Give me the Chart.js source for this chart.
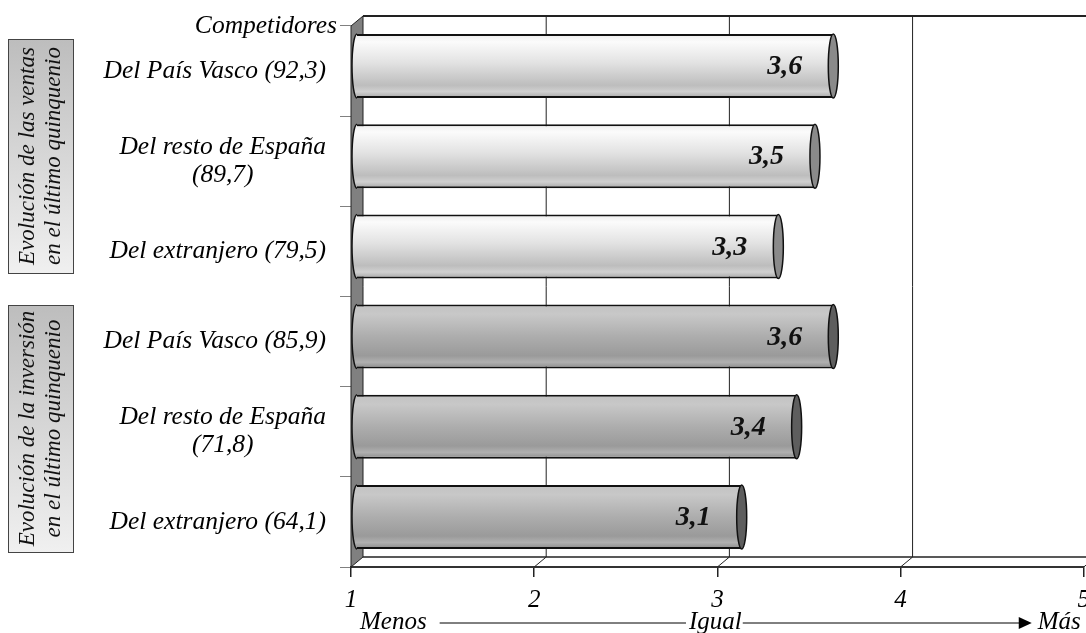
<!DOCTYPE html>
<html>
<head>
<meta charset="utf-8">
<script src="https://cdn.jsdelivr.net/npm/chart.js@4.4.1/dist/chart.umd.min.js"></script>
<style>
  html, body { margin: 0; padding: 0; background: #fff; overflow: hidden; }
  #wrap { width: 1098px; height: 633px; }
</style>
</head>
<body>
<div id="wrap"><canvas id="chart" width="1098" height="633"></canvas></div>
<script>
  // datos
  const categories = [
    ['Del País Vasco (92,3)'],
    ['Del resto de España', '(89,7)'],
    ['Del extranjero (79,5)'],
    ['Del País Vasco (85,9)'],
    ['Del resto de España', '(71,8)'],
    ['Del extranjero (64,1)']
  ];
  const values = [3.6, 3.5, 3.3, 3.6, 3.4, 3.1];
  const barGroup = [0, 0, 0, 1, 1, 1];
  const groupTitles = [
    ['Evolución de las ventas', 'en el último quinquenio'],
    ['Evolución de la inversión', 'en el último quinquenio']
  ];
  const xTicks = [1, 2, 3, 4, 5];
  const axisHeader = 'Competidores';
  const scaleWords = ['Menos', 'Igual', 'Más'];

  const SERIF = '"Liberation Serif", "Times New Roman", serif';
  const DEPTH_X = 12, DEPTH_Y = -10;
  const capColors = ['#8a8a8a', '#5e5e5e'];

  function barGradient(ctx, top, bottom, group) {
    const g = ctx.createLinearGradient(0, top, 0, bottom);
    if (group === 0) {
      g.addColorStop(0, '#ececec');
      g.addColorStop(0.12, '#fbfbfb');
      g.addColorStop(0.45, '#e2e2e2');
      g.addColorStop(0.8, '#bdbdbd');
      g.addColorStop(0.9, '#d0d0d0');
      g.addColorStop(1, '#a6a6a6');
    } else {
      g.addColorStop(0, '#c2c2c2');
      g.addColorStop(0.15, '#c8c8c8');
      g.addColorStop(0.5, '#adadad');
      g.addColorStop(0.8, '#9a9a9a');
      g.addColorStop(0.9, '#b0b0b0');
      g.addColorStop(1, '#8a8a8a');
    }
    return g;
  }

  const fmt = v => v.toFixed(1).replace('.', ',');

  const depthPlugin = {
    id: 'depth',
    beforeDatasetsDraw(chart) {
      const { ctx, chartArea: a, scales: { x } } = chart;
      const W = chart.width;
      ctx.save();
      ctx.strokeStyle = '#222';
      // pared del fondo
      ctx.lineWidth = 2;
      ctx.beginPath();
      ctx.moveTo(a.left + DEPTH_X, a.top + DEPTH_Y);
      ctx.lineTo(W, a.top + DEPTH_Y);
      ctx.stroke();
      ctx.lineWidth = 1.5;
      ctx.beginPath();
      ctx.moveTo(a.left + DEPTH_X, a.bottom + DEPTH_Y);
      ctx.lineTo(W, a.bottom + DEPTH_Y);
      ctx.stroke();
      ctx.lineWidth = 1;
      xTicks.slice(1).forEach(v => {
        const px = x.getPixelForValue(v);
        ctx.beginPath();
        ctx.moveTo(px + DEPTH_X, a.top + DEPTH_Y);
        ctx.lineTo(px + DEPTH_X, a.bottom + DEPTH_Y);
        ctx.moveTo(px, a.bottom);
        ctx.lineTo(px + DEPTH_X, a.bottom + DEPTH_Y);
        ctx.stroke();
      });
      // pared lateral
      ctx.fillStyle = '#808080';
      ctx.beginPath();
      ctx.moveTo(a.left, a.top);
      ctx.lineTo(a.left + DEPTH_X, a.top + DEPTH_Y);
      ctx.lineTo(a.left + DEPTH_X, a.bottom + DEPTH_Y);
      ctx.lineTo(a.left, a.bottom);
      ctx.closePath();
      ctx.fill();
      ctx.stroke();
      ctx.restore();
      // las barras van en el plano medio
      ctx.save();
      ctx.translate(DEPTH_X / 2, DEPTH_Y / 2);
    },
    afterDatasetsDraw(chart) {
      const { ctx } = chart;
      const start = chart.scales.x.getPixelForValue(xTicks[0]);
      const meta = chart.getDatasetMeta(0);
      meta.data.forEach((bar, i) => {
        const { x, y, height } = bar.getProps(['x', 'y', 'height'], true);
        const h = height / 2;
        const grp = barGroup[i];
        ctx.lineWidth = 1.5;
        ctx.strokeStyle = '#111';
        // extremo izquierdo
        ctx.beginPath();
        ctx.ellipse(start, y, 5, h, 0, Math.PI / 2, Math.PI * 1.5);
        ctx.fillStyle = barGradient(ctx, y - h, y + h, grp);
        ctx.fill();
        ctx.stroke();
        // tapa derecha
        ctx.beginPath();
        ctx.ellipse(x, y, 5, h, 0, 0, Math.PI * 2);
        ctx.fillStyle = capColors[grp];
        ctx.fill();
        ctx.stroke();
        // valor
        ctx.fillStyle = '#111';
        ctx.font = 'italic bold 28px ' + SERIF;
        ctx.textAlign = 'right';
        ctx.textBaseline = 'middle';
        ctx.fillText(fmt(values[i]), x - 31, y + 1);
      });
      ctx.restore();
    },
    afterDraw(chart) {
      const { ctx, chartArea: a, scales: { x, y } } = chart;
      ctx.save();
      ctx.fillStyle = '#000';
      ctx.textBaseline = 'middle';
      ctx.font = 'italic 25.5px ' + SERIF;
      // etiquetas de categoría
      const labelRight = a.left - 25;
      categories.forEach((lines, i) => {
        const cy = y.getPixelForValue(i);
        const w = Math.max(...lines.map(t => ctx.measureText(t).width));
        ctx.textAlign = 'center';
        lines.forEach((t, k) => {
          ctx.fillText(t, labelRight - w / 2, cy + (k - (lines.length - 1) / 2) * 28);
        });
      });
      ctx.textAlign = 'right';
      ctx.fillText(axisHeader, a.left - 14, a.top);

      // cajas de grupo
      const boxes = [[8, 39, 65, 234], [8, 305, 65, 247]];
      ctx.font = 'italic 23px ' + SERIF;
      boxes.forEach(([bx, by, bw, bh], gi) => {
        const g = ctx.createLinearGradient(0, by, 0, by + bh);
        g.addColorStop(0, '#bdbdbd');
        g.addColorStop(1, '#f0f0f0');
        ctx.fillStyle = g;
        ctx.fillRect(bx, by, bw, bh);
        ctx.strokeStyle = '#444';
        ctx.lineWidth = 1;
        ctx.strokeRect(bx + 0.5, by + 0.5, bw, bh);
        ctx.save();
        ctx.translate(bx + bw / 2, by + bh / 2);
        ctx.rotate(-Math.PI / 2);
        ctx.fillStyle = '#111';
        ctx.textAlign = 'center';
        groupTitles[gi].forEach((t, k) => ctx.fillText(t, 0, (k - 0.5) * 26));
        ctx.restore();
      });

      // escala Menos - Igual - Más
      const ly = 622;
      const p1 = x.getPixelForValue(1), p3 = x.getPixelForValue(3), p5 = x.getPixelForValue(5);
      ctx.font = 'italic 25px ' + SERIF;
      ctx.fillStyle = '#000';
      ctx.textAlign = 'left';
      ctx.fillText(scaleWords[0], p1 + 9, ly);
      const menosEnd = p1 + 9 + ctx.measureText(scaleWords[0]).width;
      ctx.textAlign = 'center';
      ctx.fillText(scaleWords[1], p3 - 2, ly);
      const iw = ctx.measureText(scaleWords[1]).width;
      ctx.textAlign = 'left';
      ctx.fillText(scaleWords[2], p5 - 46, ly);
      const masStart = p5 - 46;
      ctx.strokeStyle = '#000';
      ctx.lineWidth = 1;
      ctx.beginPath();
      ctx.moveTo(menosEnd + 13, ly + 1);
      ctx.lineTo(p3 - 2 - iw / 2 - 3, ly + 1);
      ctx.moveTo(p3 - 2 + iw / 2 + 1, ly + 1);
      ctx.lineTo(masStart - 14, ly + 1);
      ctx.stroke();
      ctx.beginPath();
      ctx.moveTo(masStart - 6, ly + 1);
      ctx.lineTo(masStart - 19, ly - 5);
      ctx.lineTo(masStart - 19, ly + 7);
      ctx.closePath();
      ctx.fill();
      ctx.restore();
    }
  };

  new Chart(document.getElementById('chart'), {
    type: 'bar',
    data: {
      labels: categories,
      datasets: [{
        data: values,
        backgroundColor: (c) => {
          const ys = c.chart.scales.y;
          if (!ys || c.dataIndex === undefined) return '#ddd';
          const cy = ys.getPixelForValue(c.dataIndex);
          const h = ys.height / categories.length * 0.71 / 2;
          if (!isFinite(cy) || !isFinite(h) || h <= 0) return '#ddd';
          return barGradient(c.chart.ctx, cy - h, cy + h, barGroup[c.dataIndex]);
        },
        borderColor: '#111',
        borderWidth: { top: 2, bottom: 2, left: 0, right: 0 },
        borderSkipped: false,
        barPercentage: 0.71,
        categoryPercentage: 1
      }]
    },
    options: {
      indexAxis: 'y',
      responsive: false,
      animation: false,
      layout: { padding: { top: 26, left: 0, right: 0, bottom: 0 } },
      plugins: {
        legend: { display: false },
        tooltip: { enabled: false }
      },
      scales: {
        x: {
          type: 'linear',
          min: 1,
          max: 5,
          afterBuildTicks: (s) => { s.ticks = xTicks.map(v => ({ value: v })); },
          afterFit: (s) => { s.height = 66; },
          grid: { drawOnChartArea: false, drawTicks: true, tickLength: 10, color: '#222', lineWidth: 1.5 },
          border: { display: true, color: '#333', width: 2 },
          ticks: {
            padding: 8,
            color: '#000',
            font: { family: SERIF, size: 25, style: 'italic' },
            callback: (v) => String(v)
          }
        },
        y: {
          afterFit: (s) => { s.width = 351; },
          grid: { offset: true, drawOnChartArea: false, drawTicks: true, tickLength: 11, color: '#808080' },
          border: { display: true, color: '#222', width: 1 },
          ticks: { display: false }
        }
      }
    },
    plugins: [depthPlugin]
  });
</script>
</body>
</html>
